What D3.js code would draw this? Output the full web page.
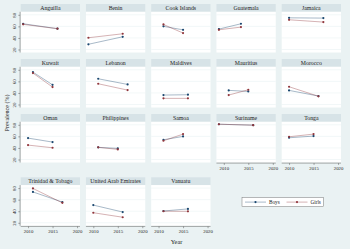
<!DOCTYPE html>
<html>
<head>
<meta charset="utf-8">
<script src="https://cdn.jsdelivr.net/npm/d3@7"></script>
<style>
  html, body { margin: 0; padding: 0; background: #eaf2f3; }
  svg text { font-family: "Liberation Serif", "DejaVu Serif", serif; fill: #222; }
</style>
</head>
<body>
<div id="chart"></div>
<script>
// Prevalence by country, survey rounds (first, second)
const countries = ['Anguilla', 'Benin', 'Cook Islands', 'Guatemala', 'Jamaica',
  'Kuwait', 'Lebanon', 'Maldives', 'Mauritius', 'Morocco',
  'Oman', 'Philippines', 'Samoa', 'Suriname', 'Tonga',
  'Trinidad & Tobago', 'United Arab Emirates', 'Vanuatu'];

const surveyYears = [[2009, 2016], [2009, 2016], [2011, 2015], [2009, 2013.5], [2010, 2017],
  [2011, 2015], [2011, 2017], [2011, 2016], [2011, 2015], [2010, 2016],
  [2010, 2015], [2011, 2015], [2011, 2015], [2009, 2016], [2010, 2015],
  [2011, 2017], [2010, 2016], [2011, 2016]];

const boys = [[64.5, 56], [29, 42], [60, 54], [55.3, 64.5], [74.8, 74.3],
  [76, 54], [64.5, 54.7], [36.3, 36.9], [44.4, 42.6], [44.4, 34.6],
  [57, 50.1], [41, 39.2], [54.1, 59.9], [81, 79.4], [57.6, 60.5],
  [73.4, 55.8], [50.6, 38.6], [40.4, 44]];

const girls = [[63.5, 56], [40.3, 47.2], [63.3, 48.4], [54.1, 58.7], [71.4, 67.4],
  [74.3, 50.1], [55.9, 44.9], [30.6, 30.6], [36.3, 45.5], [50.7, 34.2],
  [44.9, 40.3], [41, 37.5], [52.4, 63.9], [81, 79.4], [59.3, 63.9],
  [79.4, 54.5], [37.4, 29.6], [40, 39.8]];

const yTicks = [20, 40, 60, 80];
const xTicks = [2010, 2015, 2020];

const series = [
  {name: 'Boys', values: boys, color: '#1a476f'},
  {name: 'Girls', values: girls, color: '#90353b'}
];

const W = 350, H = 249;
const nCols = 5;
const colLeft0 = 20.7, colStep = 65.25, panelW = 59.3;
const rowTops = [4, 59, 114, 177.3];
const titleH = 7.8, plotH = 40.7;

const svg = d3.select('#chart').append('svg')
    .attr('width', W)
    .attr('height', H);

svg.append('rect').attr('width', W).attr('height', H).attr('fill', '#eaf2f3');

const x = d3.scaleLinear().domain([2008.5, 2020.6]).range([0, panelW]);
const y = d3.scaleLinear().domain([14.8, 85.2]).range([plotH, 0]);

// bottom-most panel in each column gets the x axis
const lastRowOfCol = d3.range(nCols).map(c =>
  d3.max(d3.range(countries.length).filter(i => i % nCols === c), i => Math.floor(i / nCols)));

countries.forEach((name, i) => {
  const col = i % nCols, row = Math.floor(i / nCols);
  const g = svg.append('g')
      .attr('transform', `translate(${colLeft0 + col * colStep},${rowTops[row]})`);

  // title band
  g.append('rect')
      .attr('width', panelW).attr('height', titleH)
      .attr('fill', '#d7e3e7');
  g.append('text')
      .attr('x', panelW / 2).attr('y', titleH / 2)
      .attr('dy', '0.35em')
      .attr('text-anchor', 'middle')
      .attr('font-size', 5.8)
      .text(name);

  const plot = g.append('g').attr('transform', `translate(0,${titleH})`);
  plot.append('rect')
      .attr('width', panelW).attr('height', plotH)
      .attr('fill', '#fff');

  plot.selectAll('.grid')
      .data(yTicks)
    .join('line')
      .attr('class', 'grid')
      .attr('x1', 0).attr('x2', panelW)
      .attr('y1', d => y(d)).attr('y2', d => y(d))
      .attr('stroke', '#eaf2f3')
      .attr('stroke-width', 0.6);

  series.forEach(s => {
    const pts = surveyYears[i].map((yr, k) => [yr, s.values[i][k]]);
    plot.append('path')
        .attr('d', d3.line().x(d => x(d[0])).y(d => y(d[1]))(pts))
        .attr('fill', 'none')
        .attr('stroke', s.color)
        .attr('stroke-opacity', 0.55)
        .attr('stroke-width', 0.7);
    plot.selectAll(null)
        .data(pts)
      .join('circle')
        .attr('cx', d => x(d[0])).attr('cy', d => y(d[1]))
        .attr('r', 1.1)
        .attr('fill', s.color);
  });

  if (col === 0) {
    const ya = plot.append('g')
        .attr('transform', 'translate(-0.6,0)')
        .call(d3.axisLeft(y).tickValues(yTicks).tickSize(1.8).tickPadding(1));
    ya.select('.domain').attr('stroke', '#555').attr('stroke-width', 0.5)
        .attr('d', `M-1.8,${y(14.8)}H0V${y(85.2)}H-1.8`).attr('d', `M0,${plotH}V0`);
    ya.selectAll('.tick line').attr('stroke', '#555').attr('stroke-width', 0.5);
    ya.selectAll('.tick text')
        .attr('font-family', '"Liberation Serif", serif')
        .attr('font-size', 4.8)
        .attr('fill', '#222')
        .attr('transform', 'rotate(-90)')
        .attr('x', 0).attr('y', -4.2)
        .attr('dy', 0)
        .attr('text-anchor', 'middle');
  }

  if (row === lastRowOfCol[col]) {
    const xa = plot.append('g')
        .attr('transform', `translate(0,${plotH + 0.6})`)
        .call(d3.axisBottom(x).tickValues(xTicks).tickFormat(d3.format('d')).tickSize(1.8).tickPadding(1.2));
    xa.select('.domain').attr('stroke', '#555').attr('stroke-width', 0.5).attr('d', `M0,0H${panelW}`);
    xa.selectAll('.tick line').attr('stroke', '#555').attr('stroke-width', 0.5);
    xa.selectAll('.tick text')
        .attr('font-family', '"Liberation Serif", serif')
        .attr('font-size', 4.8)
        .attr('fill', '#222');
  }
});

// axis titles
svg.append('text')
    .attr('transform', 'translate(6.5,113) rotate(-90)')
    .attr('text-anchor', 'middle')
    .attr('dy', '0.35em')
    .attr('font-size', 6)
    .text('Prevalence (%)');

svg.append('text')
    .attr('x', 176.5).attr('y', 241.5)
    .attr('text-anchor', 'middle')
    .attr('dy', '0.35em')
    .attr('font-size', 6.3)
    .text('Year');

// legend
const legend = svg.append('g').attr('transform', 'translate(242,197.6)');
legend.append('rect')
    .attr('width', 81.3).attr('height', 9)
    .attr('fill', '#fff')
    .attr('stroke', '#777')
    .attr('stroke-width', 0.5);

series.forEach((s, k) => {
  const lg = legend.append('g').attr('transform', `translate(${3 + k * 41.5},4.5)`);
  lg.append('line')
      .attr('x1', 0).attr('x2', 21)
      .attr('stroke', s.color).attr('stroke-opacity', 0.55).attr('stroke-width', 0.7);
  lg.append('circle').attr('cx', 10.5).attr('r', 1.1).attr('fill', s.color);
  lg.append('text')
      .attr('x', 24).attr('dy', '0.35em')
      .attr('font-size', 5.2)
      .text(s.name);
});
</script>
</body>
</html>
